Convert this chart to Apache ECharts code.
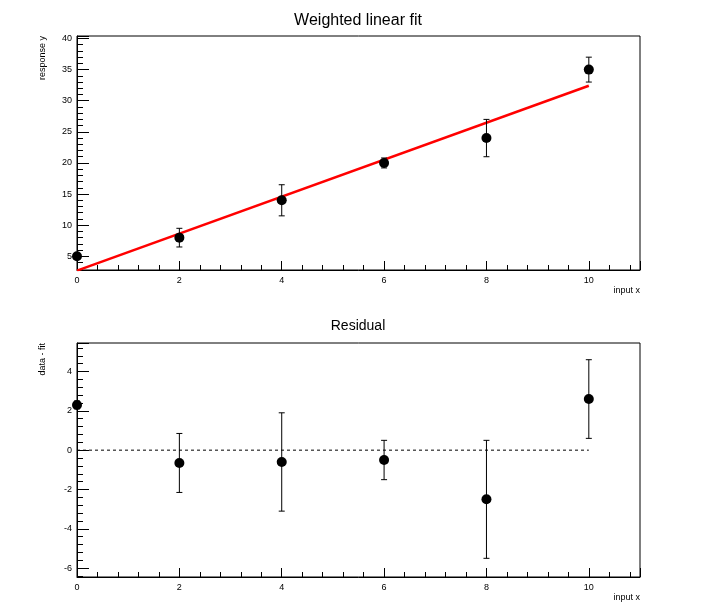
<!DOCTYPE html>
<html><head><meta charset="utf-8">
<script src="https://cdn.jsdelivr.net/npm/echarts@6/dist/echarts.min.js"></script>
<style>html,body{margin:0;background:#fff}#c{width:716px;height:612px}</style>
</head><body><div id="c"></div>
<script>
const xs = [0, 2, 4, 6, 8, 10];
const ys = [5, 8, 14, 20, 24, 35];
const yErr = [0.2, 1.5, 2.5, 0.8, 3, 2];
const fitX = [0, 10];
const fitY = [2.7, 32.4];
const resid = [2.3, -0.65, -0.6, -0.5, -2.5, 2.6];
const residErr = [0.2, 1.5, 2.5, 1.0, 3, 2];

const F = 'Liberation Sans';
function errSeries(xi, yi, vals, errs) {
  return {
    type: 'custom', xAxisIndex: xi, yAxisIndex: yi, z: 3,
    data: xs.map((x, i) => [x, vals[i] - errs[i], vals[i] + errs[i]]),
    renderItem: (p, api) => {
      const a = api.coord([api.value(0), api.value(1)]);
      const b = api.coord([api.value(0), api.value(2)]);
      const s = {stroke: '#000', lineWidth: 1};
      return {type: 'group', children: [
        {type: 'line', shape: {x1: a[0], y1: a[1], x2: b[0], y2: b[1]}, style: s},
        {type: 'line', shape: {x1: a[0]-3, y1: a[1], x2: a[0]+3, y2: a[1]}, style: s},
        {type: 'line', shape: {x1: b[0]-3, y1: b[1], x2: b[0]+3, y2: b[1]}, style: s}
      ]};
    }
  };
}
function xAx(gi) {
  return {gridIndex: gi, type: 'value', min: 0, max: 11, interval: 2,
    name: 'input x', nameLocation: 'end', nameGap: 0,
    nameTextStyle: {fontFamily: F, fontSize: 9, color: '#000', align: 'right', verticalAlign: 'top', padding: [16, 0, 0, 0]},
    axisLine: {onZero: false, lineStyle: {color: '#000'}},
    axisTick: {inside: true, length: 9, lineStyle: {color: '#000'}},
    minorTick: {show: true, splitNumber: 5, length: 5, lineStyle: {color: '#000'}},
    axisLabel: {fontFamily: F, fontSize: 9, color: '#000', showMaxLabel: false, margin: 6},
    splitLine: {show: false}};
}
function yAx(gi, min, max, split, name) {
  return {gridIndex: gi, type: 'value', min: min, max: max, splitNumber: split,
    name: name, nameLocation: 'end', nameRotate: 90, nameGap: 0,
    nameTextStyle: {fontFamily: F, fontSize: 9, color: '#000', align: 'right', verticalAlign: 'bottom', padding: [0, 0, 30, 0]},
    axisLine: {onZero: false, lineStyle: {color: '#000'}},
    axisTick: {inside: true, length: 12, lineStyle: {color: '#000'}},
    minorTick: {show: true, splitNumber: 5, length: 6, lineStyle: {color: '#000'}},
    axisLabel: {fontFamily: F, fontSize: 9, color: '#000', showMinLabel: false, showMaxLabel: false, margin: 5},
    splitLine: {show: false}};
}
const chart = echarts.init(document.getElementById('c'));
chart.setOption({
  animation: false,
  backgroundColor: '#fff',
  title: [
    {text: 'Weighted linear fit', left: 'center', top: 8, textStyle: {fontFamily: F, fontSize: 16, fontWeight: 'normal', color: '#000'}},
    {text: 'Residual', left: 'center', top: 314, textStyle: {fontFamily: F, fontSize: 14, fontWeight: 'normal', color: '#000'}}
  ],
  grid: [
    {left: 77, right: 76, top: 36, height: 234, show: true, borderColor: '#000', borderWidth: 1, backgroundColor: 'transparent'},
    {left: 77, right: 76, top: 343, height: 234, show: true, borderColor: '#000', borderWidth: 1, backgroundColor: 'transparent'}
  ],
  xAxis: [xAx(0), xAx(1)],
  yAxis: [yAx(0, 2.8, 40.4, 8, 'response y'), yAx(1, -6.45, 5.45, 6, 'data - fit')],
  series: [
    {type: 'line', xAxisIndex: 0, yAxisIndex: 0, data: fitX.map((x, i) => [x, fitY[i]]),
     showSymbol: false, lineStyle: {color: '#ff0000', width: 2.5}, z: 2},
    errSeries(0, 0, ys, yErr),
    {type: 'scatter', xAxisIndex: 0, yAxisIndex: 0, data: xs.map((x, i) => [x, ys[i]]),
     symbolSize: 10, itemStyle: {color: '#000', opacity: 1}, z: 4},
    {type: 'line', xAxisIndex: 1, yAxisIndex: 1, data: [[0, 0], [10, 0]],
     showSymbol: false, lineStyle: {color: '#000', width: 1, type: [3, 3]}, z: 2},
    errSeries(1, 1, resid, residErr),
    {type: 'scatter', xAxisIndex: 1, yAxisIndex: 1, data: xs.map((x, i) => [x, resid[i]]),
     symbolSize: 10, itemStyle: {color: '#000', opacity: 1}, z: 4}
  ]
});
</script></body></html>
